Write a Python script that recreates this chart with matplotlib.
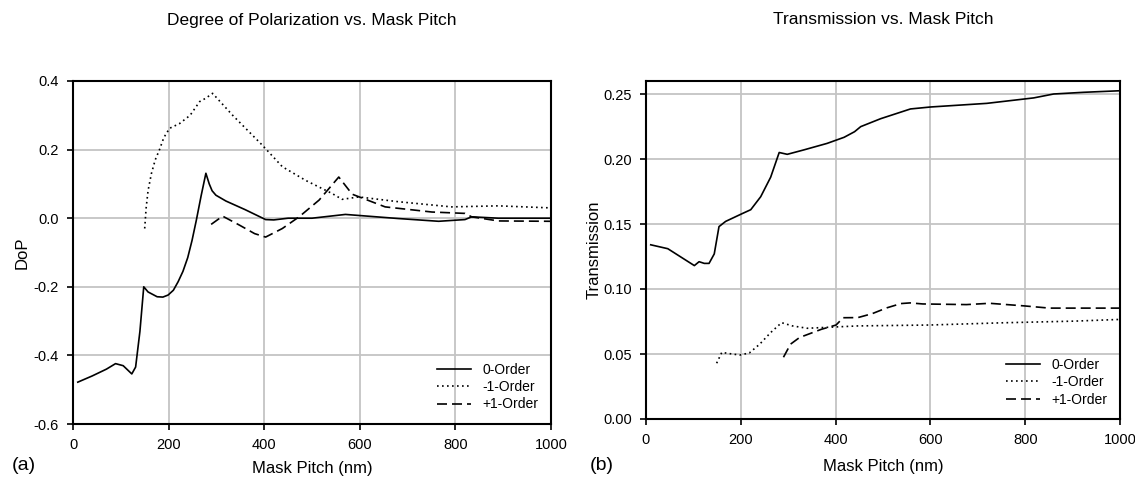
import numpy as np
import matplotlib
matplotlib.use("Agg")
import matplotlib.pyplot as plt

plt.rcParams['font.family'] = ['Liberation Sans', 'DejaVu Sans']
plt.rcParams['axes.unicode_minus'] = False

# (a) Degree of polarization
dop0_x = [10, 40, 70, 89, 105, 123, 131, 140, 148, 157, 176, 188, 199, 210, 220, 230, 240,
          249, 258, 268, 278, 285, 291, 299, 320, 360, 403, 420, 450, 500, 570, 681, 765,
          820, 834, 890, 1000]
dop0_y = [-0.478, -0.46, -0.44, -0.424, -0.43, -0.454, -0.434, -0.33, -0.2, -0.215, -0.229,
          -0.23, -0.224, -0.21, -0.185, -0.155, -0.115, -0.065, -0.006, 0.065, 0.131, 0.1,
          0.08, 0.067, 0.05, 0.025, -0.004, -0.005, 0.0, 0.0, 0.011, -0.001, -0.009, -0.004,
          0.004, 0.0, 0.0]

dopm1_x = [150, 153, 157, 164, 172, 181, 190, 202, 223, 245, 265, 278, 292, 334, 396, 438,
           487, 542, 563, 598, 681, 792, 890, 1000]
dopm1_y = [-0.03, 0.03, 0.08, 0.13, 0.17, 0.2, 0.235, 0.262, 0.276, 0.3, 0.34, 0.35, 0.364,
           0.3, 0.213, 0.15, 0.11, 0.072, 0.055, 0.062, 0.048, 0.033, 0.036, 0.03]

dopp1_x = [289, 313, 348, 380, 403, 438, 473, 515, 556, 584, 653, 751, 820, 834, 890, 1000]
dopp1_y = [-0.018, 0.006, -0.02, -0.045, -0.055, -0.03, 0.004, 0.053, 0.12, 0.07, 0.033,
           0.018, 0.014, 0.004, -0.008, -0.009]

# (b) Transmission
tr0_x = [10, 46, 102, 112, 123, 133, 144, 154, 168, 203, 221, 242, 263, 281, 298, 333, 382,
         418, 440, 453, 495, 558, 600, 719, 818, 860, 923, 1000]
tr0_y = [0.134, 0.131, 0.118, 0.121, 0.1197, 0.1197, 0.127, 0.148, 0.152, 0.158, 0.161, 0.171,
         0.186, 0.205, 0.2036, 0.207, 0.212, 0.2167, 0.221, 0.2249, 0.231, 0.2385, 0.240,
         0.2428, 0.247, 0.250, 0.2513, 0.2525]

trm1_x = [149, 160, 172, 198, 218, 240, 263, 286, 309, 340, 370, 447, 599, 752, 905, 1000]
trm1_y = [0.0429, 0.0513, 0.0505, 0.0492, 0.0508, 0.0576, 0.0665, 0.0741, 0.0716, 0.0698,
          0.0703, 0.0716, 0.0723, 0.074, 0.0753, 0.0766]

trp1_x = [290, 305, 324, 370, 401, 416, 447, 477, 508, 538, 557, 584, 676, 725, 798, 851, 1000]
trp1_y = [0.0475, 0.0576, 0.0627, 0.069, 0.0723, 0.0779, 0.078, 0.081, 0.0855, 0.0888, 0.0893,
          0.0885, 0.088, 0.089, 0.087, 0.0853, 0.0853]

labels = ['0-Order', '-1-Order', '+1-Order']

fig = plt.figure(figsize=(11.35, 4.78), dpi=100)
ax1 = fig.add_axes([73/1135, 1-424/478, (551-73)/1135, (424-81)/478])
ax2 = fig.add_axes([646/1135, 1-419/478, (1120-646)/1135, (419-81)/478])

def style(ax):
    ax.grid(True, color='#c4c4c4', lw=1.3)
    ax.set_axisbelow(True)
    for s in ax.spines.values():
        s.set_linewidth(1.5)
    ax.tick_params(direction='out', length=4, width=1.2, labelsize=10.5, pad=6,
                   top=False, right=False)
    ax.set_xlim(0, 1000)
    ax.set_xticks(np.arange(0, 1001, 200))

ax1.plot(dop0_x, dop0_y, 'k-', lw=1.2, label=labels[0])
ax1.plot(dopm1_x, dopm1_y, 'k', ls=(0, (1, 2)), lw=1.2, label=labels[1])
ax1.plot(dopp1_x, dopp1_y, 'k', ls=(0, (6, 3)), lw=1.2, label=labels[2])
style(ax1)
ax1.set_ylim(-0.6, 0.4)
ax1.set_yticks(np.arange(-0.6, 0.41, 0.2))
ax1.yaxis.set_major_formatter(matplotlib.ticker.FormatStrFormatter('%.1f'))
ax1.set_ylabel('DoP', fontsize=12, labelpad=3)

ax2.plot(tr0_x, tr0_y, 'k-', lw=1.2, label=labels[0])
ax2.plot(trm1_x, trm1_y, 'k', ls=(0, (1, 2)), lw=1.2, label=labels[1])
ax2.plot(trp1_x, trp1_y, 'k', ls=(0, (6, 3)), lw=1.2, label=labels[2])
style(ax2)
ax2.set_ylim(0, 0.26)
ax2.set_yticks(np.arange(0, 0.251, 0.05))
ax2.yaxis.set_major_formatter(matplotlib.ticker.FormatStrFormatter('%.2f'))
ax2.set_ylabel('Transmission', fontsize=12, labelpad=1)

for ax in (ax1, ax2):
    ax.legend(loc='lower right', frameon=False, fontsize=10, handlelength=2.5,
              labelspacing=0.25, borderaxespad=0.5)

fig.text(312/1135, 1-20/478, 'Degree of Polarization vs. Mask Pitch', ha='center', va='center', fontsize=12.5)
fig.text(883/1135, 1-20/478, 'Transmission vs. Mask Pitch', ha='center', va='center', fontsize=12.5)
fig.text(312/1135, 1-468/478, 'Mask Pitch (nm)', ha='center', va='center', fontsize=12)
fig.text(883/1135, 1-467/478, 'Mask Pitch (nm)', ha='center', va='center', fontsize=12)
fig.text(12/1135, 1-466/478, '(a)', ha='left', va='center', fontsize=14)
fig.text(590/1135, 1-466/478, '(b)', ha='left', va='center', fontsize=14)

fig.savefig('out.png', dpi=100)
